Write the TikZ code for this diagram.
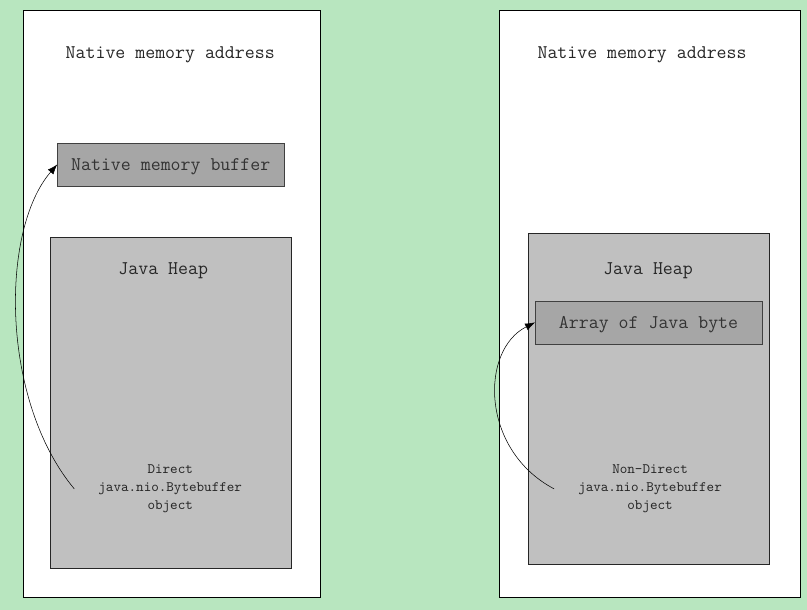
\documentclass[tikz,border=0pt]{standalone}
\usepackage{fontspec}
\usetikzlibrary{arrows.meta}
\definecolor{bgGreen}{RGB}{184,230,191}
\definecolor{heapGray}{RGB}{192,192,192}
\definecolor{bufGray}{RGB}{166,166,166}
\begin{document}
\begin{tikzpicture}[x=0.75pt,y=-0.75pt]
            \tikzset{Panel/.style={%
                shape=rectangle,%
                draw=black,%
                fill=white,%
                inner sep=0pt,%
                outer sep=0pt,%
                minimum height=440.25pt,%
            },
            Heap/.style={%
                shape=rectangle,%
                draw=black!85,%
                fill=heapGray,%
                inner sep=0pt,%
                outer sep=0pt,%
                minimum width=180.75pt,%
                minimum height=248.25pt,%
            },
            Buffer/.style={%
                shape=rectangle,%
                draw=black!75,%
                fill=bufGray,%
                inner sep=0pt,%
                outer sep=0pt,%
                minimum width=170.25pt,%
                minimum height=32.25pt,%
                text height=12.5pt,%
                text depth=3pt,%
                text=black!80,%
                font=\ttfamily\fontsize{14.5}{17}\selectfont,%
            },
            Title/.style={font=\ttfamily\fontsize{14.5}{17}\selectfont, text=black!85},
            Label/.style={font=\ttfamily\fontsize{10.8}{13.5}\selectfont, align=center, text=black!85},
            Ref/.style={-{Latex[length=7.5pt,width=5.5pt]}},
            }

            \fill[bgGreen] (0,0) rectangle (807,610);

            \node[Panel, minimum width=222.75pt] (pl) at (171.5,303.5) {};
            \node[Panel, minimum width=225.75pt] (pr) at (649.5,303.5) {};

            \node[Title] (tl) at (170,55) {Native memory address};
            \node[Title] (tr) at (642,55) {Native memory address};

            \node[Buffer] (buf) at (170.5,164.5) {Native memory buffer};

            \node[Heap] (hl) at (170.5,402.5) {};
            \node[Heap] (hr) at (648.5,398.5) {};

            \node[Title] (jl) at (163,271) {Java Heap};
            \node[Title] (jr) at (648,271) {Java Heap};

            \node[Buffer] (arr) at (648.5,322.5) {Array of Java byte};

            \node[Label] (dl) at (170,489) {Direct\\java.nio.Bytebuffer\\object};
            \node[Label] (dr) at (650,489) {Non-Direct\\java.nio.Bytebuffer\\object};

            \coordinate (sl) at (74,489);
            \coordinate (sr) at (554,489);

            \draw[Ref] (sl) .. controls (0,400) and (0,230) .. (buf.west);
            \draw[Ref] (sr) .. controls (480,450) and (480,350) .. (arr.west);
\end{tikzpicture}
\end{document}
